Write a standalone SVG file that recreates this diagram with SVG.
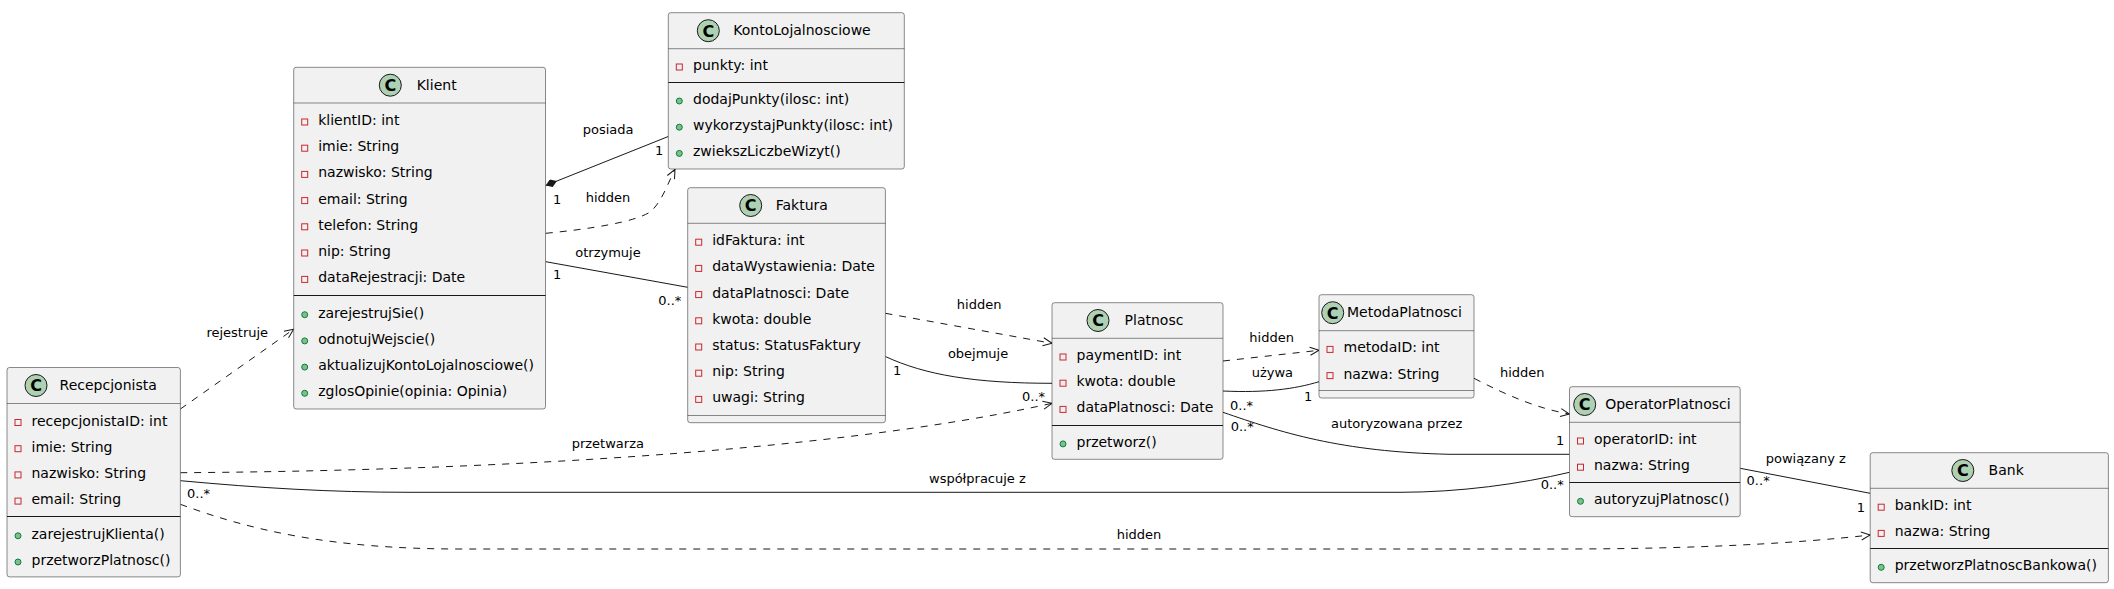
<svg xmlns="http://www.w3.org/2000/svg" width="2114" height="589" viewBox="0 0 2114 589">
<style>
.box{fill:#F1F1F1;stroke:#181818;stroke-width:0.5}
.hl{stroke:#181818;stroke-width:0.5}
.sep{stroke:#181818;stroke-width:1}
.ci{fill:#ADD1B2;stroke:#181818;stroke-width:1}
.cl{font-family:"DejaVu Sans",sans-serif;font-weight:bold;font-size:16px;text-anchor:middle;fill:#000}
.t{font-family:"DejaVu Sans",sans-serif;font-size:14px;fill:#000}
.l{font-family:"DejaVu Sans",sans-serif;font-size:13px;fill:#000}
.pv{fill:none;stroke:#C82930;stroke-width:1}
.pb{fill:#84BE84;stroke:#038048;stroke-width:1}
.e{fill:none;stroke:#181818;stroke-width:1}
.d{stroke-dasharray:7,7}
</style>
<defs>
<marker id="arrow" viewBox="0 0 10 10" refX="9.5" refY="5" markerWidth="10" markerHeight="10" markerUnits="userSpaceOnUse" orient="auto"><path d="M0.5,1 L9.5,5 L0.5,9" fill="none" stroke="#181818" stroke-width="1" stroke-dasharray="none"/></marker>
<marker id="diamond" viewBox="0 0 12 8" refX="0" refY="4" markerWidth="12" markerHeight="8" markerUnits="userSpaceOnUse" orient="auto"><path d="M0,4 L6,0 L12,4 L6,8 Z" fill="#181818"/></marker>
</defs>

<g id="connectors">
<path class="e" d="M545.7,185.5 L668.3,136.5" marker-start="url(#diamond)"/>
<path class="e d" d="M545.7,233.3 C590,229 635,222 650,212 C662,202 667,185 675,169.3" marker-end="url(#arrow)"/>
<path class="e" d="M545.7,261.7 L687.7,287.3"/>
<path class="e d" d="M180.4,409 L293.6,329.3" marker-end="url(#arrow)"/>
<path class="e d" d="M885.4,313.3 L1052,343.3" marker-end="url(#arrow)"/>
<path class="e" d="M885.4,356.5 C925,375 975,383.3 1052,383.3"/>
<path class="e d" d="M180.4,472.7 C450,471 820,455 1052,403.3" marker-end="url(#arrow)"/>
<path class="e" d="M180.4,480.7 C260,488 330,492.3 410,492.3 L1400,492.3 C1460,492.3 1520,484 1569.5,472.3"/>
<path class="e d" d="M180.4,504.3 C250,530 330,549 460,549 L1560,549 C1700,549 1800,543 1870.2,535" marker-end="url(#arrow)"/>
<path class="e d" d="M1223,361 L1319,350.3" marker-end="url(#arrow)"/>
<path class="e" d="M1223,391 C1265,393 1295,389 1319,381.7"/>
<path class="e" d="M1223,412.3 C1280,432 1340,452 1450,454.3 L1569.5,454.3"/>
<path class="e d" d="M1474,378.3 C1510,397 1540,409 1569.5,414" marker-end="url(#arrow)"/>
<path class="e" d="M1740.2,468.3 L1870.2,493.3"/>

<text class="l" x="582.7" y="134.3">posiada</text>
<text class="l" x="553" y="204">1</text>
<text class="l" x="655" y="155">1</text>
<text class="l" x="585.7" y="201.7">hidden</text>
<text class="l" x="575.3" y="256.7">otrzymuje</text>
<text class="l" x="553" y="279.3">1</text>
<text class="l" x="658.3" y="305">0..*</text>
<text class="l" x="206.4" y="337.3">rejestruje</text>
<text class="l" x="956.8" y="309.3">hidden</text>
<text class="l" x="947.9" y="358.3">obejmuje</text>
<text class="l" x="893" y="375">1</text>
<text class="l" x="1022" y="401">0..*</text>
<text class="l" x="571.7" y="448.3">przetwarza</text>
<text class="l" x="929" y="483">współpracuje z</text>
<text class="l" x="187" y="498.3">0..*</text>
<text class="l" x="1540.7" y="489.3">0..*</text>
<text class="l" x="1116.7" y="539.3">hidden</text>
<text class="l" x="1249.3" y="341.7">hidden</text>
<text class="l" x="1251.7" y="376.7">używa</text>
<text class="l" x="1230" y="410">0..*</text>
<text class="l" x="1304" y="400.7">1</text>
<text class="l" x="1331" y="427.7">autoryzowana przez</text>
<text class="l" x="1230.7" y="430.5">0..*</text>
<text class="l" x="1556" y="445">1</text>
<text class="l" x="1500" y="376.7">hidden</text>
<text class="l" x="1765.7" y="462.7">powiązany z</text>
<text class="l" x="1746.6" y="485">0..*</text>
<text class="l" x="1856.8" y="511.7">1</text>
</g>

<g id="Recepcjonista">
<rect class="box" x="7" y="367.5" width="173.4" height="209.4" rx="2.5"/>
<line class="hl" x1="7" y1="403.5" x2="180.4" y2="403.5"/>
<circle class="ci" cx="36" cy="385.5" r="11"/>
<text class="cl" x="36" y="391.3">C</text>
<text class="t" x="59.6" y="390">Recepcjonista</text>
<rect class="pv" x="15" y="419.5" width="6" height="6"/><text class="t" x="31.5" y="425.5">recepcjonistaID: int</text>
<rect class="pv" x="15" y="445.7" width="6" height="6"/><text class="t" x="31.5" y="451.7">imie: String</text>
<rect class="pv" x="15" y="471.9" width="6" height="6"/><text class="t" x="31.5" y="477.9">nazwisko: String</text>
<rect class="pv" x="15" y="498.1" width="6" height="6"/><text class="t" x="31.5" y="504.1">email: String</text>
<line class="sep" x1="7" y1="516.5" x2="180.4" y2="516.5"/>
<circle class="pb" cx="18" cy="535.8" r="3"/><text class="t" x="31.5" y="538.8">zarejestrujKlienta()</text>
<circle class="pb" cx="18" cy="562" r="3"/><text class="t" x="31.5" y="565">przetworzPlatnosc()</text>
</g>

<g id="Klient">
<rect class="box" x="293.7" y="67.3" width="251.8" height="341.7" rx="2.5"/>
<line class="hl" x1="293.7" y1="103" x2="545.5" y2="103"/>
<circle class="ci" cx="390.3" cy="85.2" r="11"/>
<text class="cl" x="390.3" y="91">C</text>
<text class="t" x="416.7" y="89.7">Klient</text>
<rect class="pv" x="301.7" y="119" width="6" height="6"/><text class="t" x="318.2" y="125">klientID: int</text>
<rect class="pv" x="301.7" y="145.2" width="6" height="6"/><text class="t" x="318.2" y="151.2">imie: String</text>
<rect class="pv" x="301.7" y="171.4" width="6" height="6"/><text class="t" x="318.2" y="177.4">nazwisko: String</text>
<rect class="pv" x="301.7" y="197.6" width="6" height="6"/><text class="t" x="318.2" y="203.6">email: String</text>
<rect class="pv" x="301.7" y="223.8" width="6" height="6"/><text class="t" x="318.2" y="229.8">telefon: String</text>
<rect class="pv" x="301.7" y="250" width="6" height="6"/><text class="t" x="318.2" y="256">nip: String</text>
<rect class="pv" x="301.7" y="276.4" width="6" height="6"/><text class="t" x="318.2" y="282.4">dataRejestracji: Date</text>
<line class="sep" x1="293.7" y1="295.5" x2="545.5" y2="295.5"/>
<circle class="pb" cx="304.7" cy="314.7" r="3"/><text class="t" x="318.2" y="317.7">zarejestrujSie()</text>
<circle class="pb" cx="304.7" cy="340.9" r="3"/><text class="t" x="318.2" y="343.9">odnotujWejscie()</text>
<circle class="pb" cx="304.7" cy="367.1" r="3"/><text class="t" x="318.2" y="370.1">aktualizujKontoLojalnosciowe()</text>
<circle class="pb" cx="304.7" cy="393.3" r="3"/><text class="t" x="318.2" y="396.3">zglosOpinie(opinia: Opinia)</text>
</g>

<g id="KontoLojalnosciowe">
<rect class="box" x="668.3" y="12.7" width="236" height="156.3" rx="2.5"/>
<line class="hl" x1="668.3" y1="48.7" x2="904.3" y2="48.7"/>
<circle class="ci" cx="708.3" cy="30.7" r="11"/>
<text class="cl" x="708.3" y="36.5">C</text>
<text class="t" x="733.3" y="35">KontoLojalnosciowe</text>
<rect class="pv" x="676.3" y="64" width="6" height="6"/><text class="t" x="693" y="70">punkty: int</text>
<line class="sep" x1="668.3" y1="82.5" x2="904.3" y2="82.5"/>
<circle class="pb" cx="679.3" cy="101" r="3"/><text class="t" x="693" y="104">dodajPunkty(ilosc: int)</text>
<circle class="pb" cx="679.3" cy="127.2" r="3"/><text class="t" x="693" y="130.2">wykorzystajPunkty(ilosc: int)</text>
<circle class="pb" cx="679.3" cy="153.4" r="3"/><text class="t" x="693" y="156.4">zwiekszLiczbeWizyt()</text>
</g>

<g id="Faktura">
<rect class="box" x="687.7" y="187.7" width="197.7" height="235" rx="2.5"/>
<line class="hl" x1="687.7" y1="223.3" x2="885.4" y2="223.3"/>
<circle class="ci" cx="750.7" cy="205.5" r="11"/>
<text class="cl" x="750.7" y="211.3">C</text>
<text class="t" x="775.7" y="210">Faktura</text>
<rect class="pv" x="695.7" y="239.2" width="6" height="6"/><text class="t" x="712.2" y="245.2">idFaktura: int</text>
<rect class="pv" x="695.7" y="265.4" width="6" height="6"/><text class="t" x="712.2" y="271.4">dataWystawienia: Date</text>
<rect class="pv" x="695.7" y="291.6" width="6" height="6"/><text class="t" x="712.2" y="297.6">dataPlatnosci: Date</text>
<rect class="pv" x="695.7" y="317.8" width="6" height="6"/><text class="t" x="712.2" y="323.8">kwota: double</text>
<rect class="pv" x="695.7" y="344" width="6" height="6"/><text class="t" x="712.2" y="350">status: StatusFaktury</text>
<rect class="pv" x="695.7" y="370.2" width="6" height="6"/><text class="t" x="712.2" y="376.2">nip: String</text>
<rect class="pv" x="695.7" y="396.4" width="6" height="6"/><text class="t" x="712.2" y="402.4">uwagi: String</text>
<line class="hl" x1="687.7" y1="415.5" x2="885.4" y2="415.5"/>
</g>

<g id="Platnosc">
<rect class="box" x="1052" y="302.7" width="171" height="156.6" rx="2.5"/>
<line class="hl" x1="1052" y1="338.3" x2="1223" y2="338.3"/>
<circle class="ci" cx="1098" cy="320.5" r="11"/>
<text class="cl" x="1098" y="326.3">C</text>
<text class="t" x="1124.6" y="325">Platnosc</text>
<rect class="pv" x="1060" y="354" width="6" height="6"/><text class="t" x="1076.5" y="360">paymentID: int</text>
<rect class="pv" x="1060" y="380.2" width="6" height="6"/><text class="t" x="1076.5" y="386.2">kwota: double</text>
<rect class="pv" x="1060" y="406.4" width="6" height="6"/><text class="t" x="1076.5" y="412.4">dataPlatnosci: Date</text>
<line class="sep" x1="1052" y1="425.5" x2="1223" y2="425.5"/>
<circle class="pb" cx="1063" cy="443.9" r="3"/><text class="t" x="1076.5" y="446.9">przetworz()</text>
</g>

<g id="MetodaPlatnosci">
<rect class="box" x="1319" y="294.7" width="155" height="103.3" rx="2.5"/>
<line class="hl" x1="1319" y1="330.7" x2="1474" y2="330.7"/>
<circle class="ci" cx="1332.7" cy="312.7" r="11"/>
<text class="cl" x="1332.7" y="318.5">C</text>
<text class="t" x="1347" y="317.2">MetodaPlatnosci</text>
<rect class="pv" x="1327" y="346.4" width="6" height="6"/><text class="t" x="1343.5" y="352.4">metodaID: int</text>
<rect class="pv" x="1327" y="372.6" width="6" height="6"/><text class="t" x="1343.5" y="378.6">nazwa: String</text>
<line class="hl" x1="1319" y1="390.5" x2="1474" y2="390.5"/>
</g>

<g id="OperatorPlatnosci">
<rect class="box" x="1569.5" y="386.7" width="170.7" height="130" rx="2.5"/>
<line class="hl" x1="1569.5" y1="422.3" x2="1740.2" y2="422.3"/>
<circle class="ci" cx="1584.7" cy="404.5" r="11"/>
<text class="cl" x="1584.7" y="410.3">C</text>
<text class="t" x="1605.2" y="409">OperatorPlatnosci</text>
<rect class="pv" x="1577.5" y="438" width="6" height="6"/><text class="t" x="1594" y="444">operatorID: int</text>
<rect class="pv" x="1577.5" y="464.2" width="6" height="6"/><text class="t" x="1594" y="470.2">nazwa: String</text>
<line class="sep" x1="1569.5" y1="482.5" x2="1740.2" y2="482.5"/>
<circle class="pb" cx="1580.5" cy="501.3" r="3"/><text class="t" x="1594" y="504.3">autoryzujPlatnosc()</text>
</g>

<g id="Bank">
<rect class="box" x="1870.2" y="452.7" width="238.2" height="130" rx="2.5"/>
<line class="hl" x1="1870.2" y1="488.3" x2="2108.4" y2="488.3"/>
<circle class="ci" cx="1962.8" cy="470.5" r="11"/>
<text class="cl" x="1962.8" y="476.3">C</text>
<text class="t" x="1988.6" y="475">Bank</text>
<rect class="pv" x="1878.2" y="504.2" width="6" height="6"/><text class="t" x="1894.7" y="510.2">bankID: int</text>
<rect class="pv" x="1878.2" y="530.4" width="6" height="6"/><text class="t" x="1894.7" y="536.4">nazwa: String</text>
<line class="sep" x1="1870.2" y1="548.5" x2="2108.4" y2="548.5"/>
<circle class="pb" cx="1881.2" cy="567.3" r="3"/><text class="t" x="1894.7" y="570.3">przetworzPlatnoscBankowa()</text>
</g>
</svg>
